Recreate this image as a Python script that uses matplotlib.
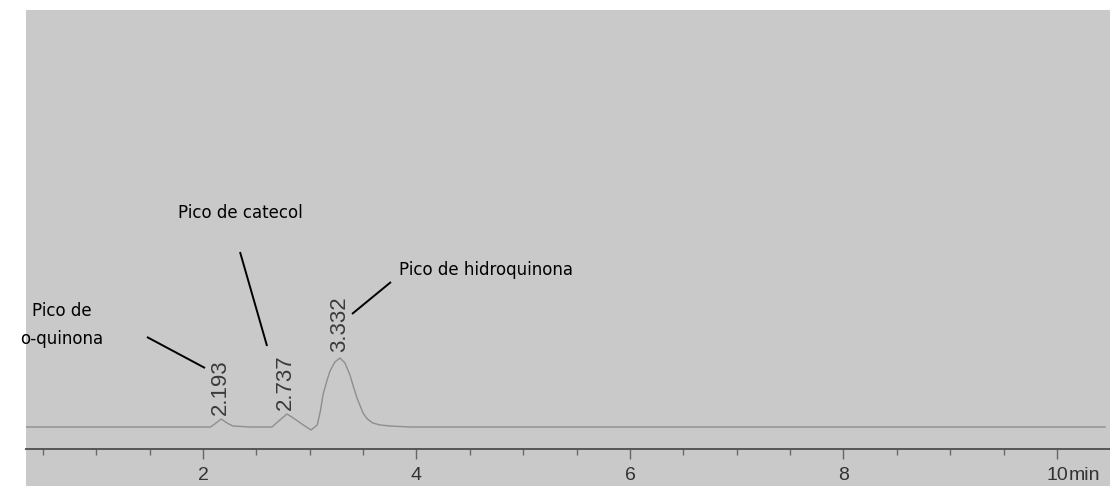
import matplotlib

matplotlib.use("Agg")
import matplotlib.pyplot as plt
from matplotlib.patches import Rectangle

# trace: retention time (min) and detector signal (arbitrary units)
time_min = [0.34, 1.00, 1.60, 2.07, 2.11, 2.17, 2.225, 2.28, 2.44, 2.646, 2.72,
            2.787, 2.86, 2.94, 3.012, 3.07, 3.10, 3.124, 3.16, 3.19, 3.236,
            3.283, 3.33, 3.377, 3.41, 3.443, 3.499, 3.54, 3.59, 3.66, 3.752,
            3.94, 5.0, 6.5, 8.0, 9.5, 10.45]
signal = [0, 0, 0, 0, 3, 8, 4, 1, 0, 0, 7,
          13, 8, 2, -3, 2, 16, 32, 46, 56, 65,
          69, 64, 52, 40, 29, 14, 8, 4, 2, 1,
          0, 0, 0, 0, 0, 0]

peak_labels = ["2.193", "2.737", "3.332"]
peak_label_x = [2.159, 2.768, 3.283]
peak_label_y = [12, 17, 75]

notes = ["Pico de\no-quinona", "Pico de catecol", "Pico de hidroquinona"]
note_xy = [(0.679, 102), (2.347, 214), (4.651, 157)]
leader_start = [(1.475, 90), (2.347, 175), (3.761, 145)]
leader_end = [(2.019, 59), (2.600, 81), (3.396, 113)]

major_ticks = [2, 4, 6, 8, 10]
major_labels = ["2", "4", "6", "8", "10"]
minor_ticks = [0.5, 1, 1.5, 2.5, 3, 3.5, 4.5, 5, 5.5, 6.5, 7, 7.5, 8.5, 9, 9.5]

W, H = 1110, 486
fig = plt.figure(figsize=(W / 100, H / 100), dpi=100)
fig.patch.set_facecolor("white")
fig.patches.append(
    Rectangle((26 / W, 0), 1 - 26 / W, 1 - 10 / H, transform=fig.transFigure,
              facecolor="#c9c9c9", edgecolor="none", zorder=-10)
)

ax = fig.add_axes([26 / W, 1 - 449 / H, 1 - 26 / W, (449 - 10) / H])
ax.patch.set_alpha(0)
ax.set_xlim(0.342, 10.497)
ax.set_ylim(-22, 417)

ax.plot(time_min, signal, color="#8e8e8e", linewidth=1.0)

for side in ("top", "right", "left"):
    ax.spines[side].set_visible(False)
ax.spines["bottom"].set_color("#555555")
ax.spines["bottom"].set_linewidth(1.4)
ax.set_yticks([])
ax.set_xticks(major_ticks)
ax.set_xticklabels(major_labels, fontfamily="Liberation Sans", fontsize=14,
                   color="#333333")
ax.set_xticks(minor_ticks, minor=True)
ax.tick_params(axis="x", which="major", direction="out", length=7, width=1,
               color="#666666", pad=6)
ax.tick_params(axis="x", which="minor", direction="out", length=4, width=1,
               color="#6a6a6a")

ax.annotate("min", xy=(10, 0), xycoords=ax.get_xaxis_transform(),
            xytext=(8.5, -13), textcoords="offset points", ha="left", va="top",
            fontfamily="Liberation Sans", fontsize=14, color="#333333")

for label, x, y in zip(peak_labels, peak_label_x, peak_label_y):
    ax.text(x, y, label, rotation=90, ha="center", va="bottom",
            fontfamily="Liberation Sans", fontsize=16, color="#3a3a3a")

for text, (x, y) in zip(notes, note_xy):
    ax.text(x, y, text, ha="center", va="center", multialignment="center",
            fontsize=12, linespacing=1.7, color="black")

for (x0, y0), (x1, y1) in zip(leader_start, leader_end):
    ax.plot([x0, x1], [y0, y1], color="black", linewidth=1.4,
            solid_capstyle="butt")

fig.savefig("out.png", dpi=100)
